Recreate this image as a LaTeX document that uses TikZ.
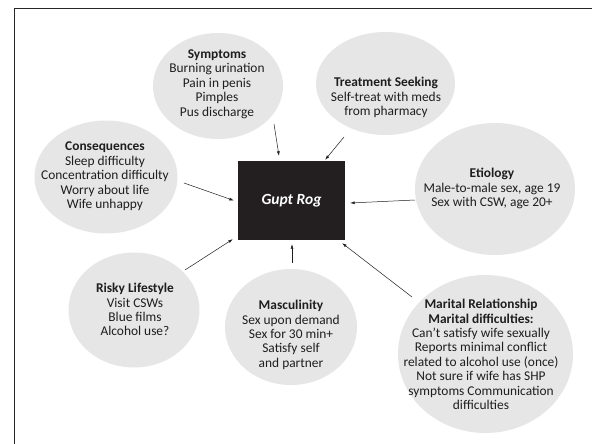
\documentclass[tikz,border=0pt]{standalone}
\usepackage{fontspec}
\setmainfont{Carlito}
\usetikzlibrary{shapes.geometric,arrows.meta}
\definecolor{blobgray}{RGB}{230,230,231}
\definecolor{boxblack}{RGB}{35,31,32}
\definecolor{txt}{RGB}{30,30,30}
\begin{document}
\begin{tikzpicture}[x=1pt,y=-1pt,
 blob/.style={ellipse,fill=blobgray,inner sep=0pt},
 lbl/.style={align=center,anchor=north,inner sep=0pt,text=txt,font=\fontsize{13.4}{14.4}\selectfont},
 arr/.style={-{Latex[length=4.5pt,width=3pt]},line width=0.5pt,draw=txt}]
\useasboundingbox (0,0) rectangle (592,444);
\fill[white] (0,0) rectangle (592,444);
\draw[line width=1.3pt,draw=black!85] (14.5,444) -- (14.5,8.5) -- (592,8.5);

% ellipses
\node[blob,minimum width=130pt,minimum height=106pt] (symE) at (218,86) {};
\node[blob,minimum width=139pt,minimum height=103pt] (treE) at (385.5,83.5) {};
\node[blob,minimum width=143pt,minimum height=113pt] (conE) at (106,177) {};
\node[blob,minimum width=160pt,minimum height=132pt] (etiE) at (495,189) {};
\node[blob,minimum width=131pt,minimum height=115pt] (risE) at (134,310) {};
\node[blob,minimum width=132pt,minimum height=116pt] (masE) at (291,327) {};
\node[blob,minimum width=175pt,minimum height=158pt] (marE) at (485.5,354) {};

% texts
\node[lbl] (sym) at (217,49.5) {\textbf{Symptoms}\\Burning urination\\Pain in penis\\Pimples\\Pus discharge};
\node[lbl] (tre) at (386,77) {\textbf{Treatment Seeking}\\Self-treat with meds\\from pharmacy};
\node[lbl] (con) at (105,142) {\textbf{Consequences}\\Sleep difficulty\\Concentration difficulty\\Worry about life\\Wife unhappy};
\node[lbl] (eti) at (492,168) {\textbf{Etiology}\\Male-to-male sex, age 19\\Sex with CSW, age 20+};
\node[lbl] (ris) at (135,283) {\textbf{Risky Lifestyle}\\Visit CSWs\\Blue films\\Alcohol use?};
\node[lbl] (mas) at (291,300) {\textbf{Masculinity}\\Sex upon demand\\Sex for 30 min+\\Satisfy self\\and partner};
\node[lbl] (mar) at (481,299) {\textbf{Marital Relationship}\\\textbf{Marital difficulties:}\\Can’t satisfy wife sexually\\Reports minimal conflict\\related to alcohol use (once)\\Not sure if wife has SHP\\symptoms Communication\\difficulties};

% central box
\node[fill=boxblack,minimum width=107pt,minimum height=79pt,inner sep=0pt,text=white,font=\fontsize{15.5}{18}\selectfont] (gupt) at (291.5,200.5) {\textbf{\textit{Gupt Rog}}};

% arrow starts
\coordinate (a1) at (274,124);
\coordinate (a2) at (344,137);
\coordinate (a3) at (184,183);
\coordinate (a4) at (415,200);
\coordinate (a5) at (185,270);
\coordinate (a6) at (292,263);
\coordinate (a7) at (412,297);

\draw[arr] (a1) -- ([shift={(-12.5,-5)}]gupt.north);
\draw[arr] (a2) -- ([shift={(-20,-1)}]gupt.north east);
\draw[arr] (a3) -- ([shift={(-4,0)}]gupt.west);
\draw[arr] (a4) -- ([shift={(5,2.5)}]gupt.east);
\draw[arr] (a5) -- ([shift={(-5,-1)}]gupt.south west);
\draw[arr] (a6) -- ([shift={(0.5,4)}]gupt.south);
\draw[arr] (a7) -- ([shift={(-3,3)}]gupt.south east);
\end{tikzpicture}
\end{document}
